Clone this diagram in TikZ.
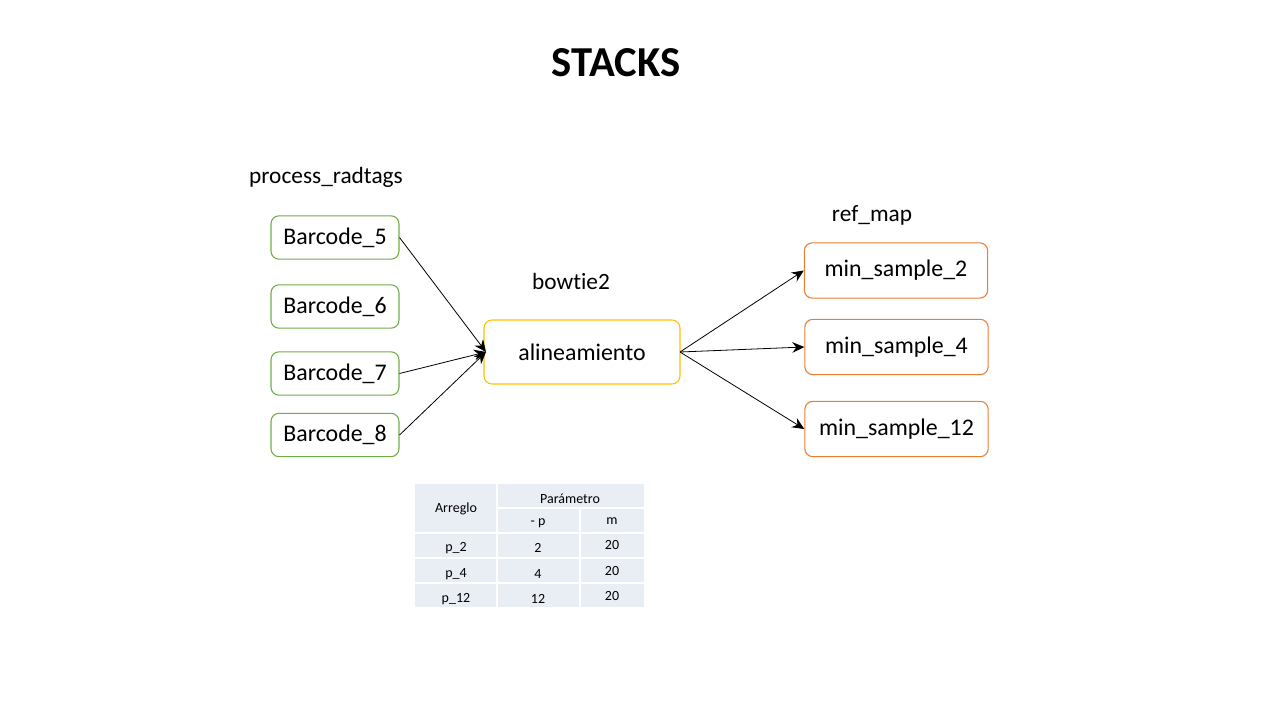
\documentclass[tikz,border=0pt]{standalone}
\usepackage{fontspec}
\setmainfont[Ligatures={NoCommon}]{Carlito}
\usetikzlibrary{arrows.meta}
\definecolor{gbord}{HTML}{70AD47}
\definecolor{ybord}{HTML}{FFC000}
\definecolor{obord}{HTML}{ED7D31}
\definecolor{tfill}{HTML}{E9EDF4}
\begin{document}
\begin{tikzpicture}[x=0.75pt,y=-0.75pt,
  box/.style={draw, rounded corners=6pt, line width=0.8pt, inner sep=0pt, font=\fontsize{17.9}{21}\selectfont},
  bar/.style={box, draw=gbord, minimum width=96pt, minimum height=32.5pt},
  ali/.style={box, draw=ybord, minimum width=147pt, minimum height=48pt},
  ms/.style={box, draw=obord, minimum width=137.5pt, minimum height=41.5pt},
  lab/.style={font=\fontsize{17.5}{21}\selectfont, inner sep=0pt},
  cell/.style={font=\fontsize{10.5}{12}\selectfont, inner sep=0pt},
  arr/.style={-{Stealth[length=9pt,width=8pt,inset=3pt]}, line width=0.6pt}]
\useasboundingbox (0,0) rectangle (1280,720);
\node[font=\bfseries\fontsize{32}{38}\selectfont, inner sep=0pt] (title) at (616,63) {STACKS};
\node[lab] (lpr) at (326,177) {process\_radtags};
\node[lab] (lbt) at (571,281) {bowtie2};
\node[lab] (lrm) at (872,215) {ref\_map};
\node[bar] (b5) at (335,237.5) {Barcode\_5};
\node[bar] (b6) at (335,306.5) {Barcode\_6};
\node[bar] (b7) at (335,373.5) {Barcode\_7};
\node[bar] (b8) at (335,435) {Barcode\_8};
\node[ali] (al) at (582,352) {alineamiento};
\node[ms] (m2) at (896,270.5) {min\_sample\_2};
\node[ms] (m4) at (896.5,347) {min\_sample\_4};
\node[ms] (m12) at (896.5,429) {min\_sample\_12};
\coordinate (alin) at (486,352);
\coordinate (alout) at (680,352);
\draw[arr] (b5.east) -- (alin);
\draw[arr] (b7.east) -- (alin);
\draw[arr] (b8.east) -- (alin);
\draw[arr] (alout) -- (m2.west);
\draw[arr] (alout) -- (m4.west);
\draw[arr] (alout) -- (m12.west);
% table
\fill[tfill] (415,484) rectangle (644,607);
\draw[white, line width=1.5pt] (496.5,484) -- (496.5,607);
\draw[white, line width=1.5pt] (579.5,508) -- (579.5,607);
\draw[white, line width=1.5pt] (496.5,508) -- (644,508);
\draw[white, line width=1.5pt] (415,532.5) -- (644,532.5);
\draw[white, line width=1.5pt] (415,557.5) -- (644,557.5);
\draw[white, line width=1.5pt] (415,582.5) -- (644,582.5);
\node[cell] (t00) at (456,509) {Arreglo};
\node[cell] (t01) at (570,499) {Parámetro};
\node[cell] (t11) at (538,523) {- p};
\node[cell] (t12) at (612,521) {m};
\node[cell] (t20) at (456,548) {p\_2};
\node[cell] (t21) at (538,548) {2};
\node[cell] (t22) at (612,545) {20};
\node[cell] (t30) at (456,574) {p\_4};
\node[cell] (t31) at (538,574) {4};
\node[cell] (t32) at (612,571) {20};
\node[cell] (t40) at (456,599) {p\_12};
\node[cell] (t41) at (538,599) {12};
\node[cell] (t42) at (612,596) {20};
\end{tikzpicture}
\end{document}
